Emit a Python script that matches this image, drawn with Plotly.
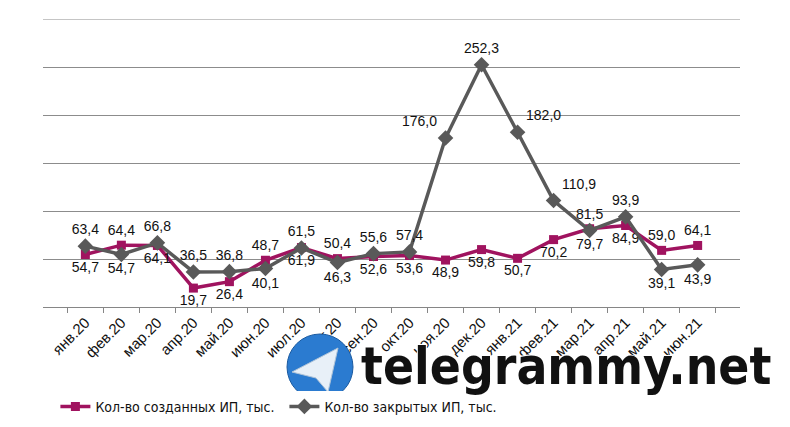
import plotly.graph_objects as go

months = ["янв.20", "фев.20", "мар.20", "апр.20", "май.20", "июн.20", "июл.20",
          "авг.20", "сен.20", "окт.20", "ноя.20", "дек.20", "янв.21", "фев.21",
          "мар.21", "апр.21", "май.21", "июн.21"]
created = [54.7, 64.4, 64.1, 19.7, 26.4, 48.7, 61.9, 50.4, 52.6, 53.6, 48.9, 59.8,
           50.7, 70.2, 81.5, 84.9, 59.0, 64.1]
closed = [63.4, 54.7, 66.8, 36.5, 36.8, 40.1, 61.5, 46.3, 55.6, 57.4, 176.0, 252.3,
          182.0, 110.9, 79.7, 93.9, 39.1, 43.9]

# where each data label sits (Excel put them by hand)
created_pos = ["bottom center", "top center", "bottom center", "bottom center", "bottom center",
               "top center", "bottom center", "top center", "bottom center", "bottom center",
               "bottom center", "bottom center", "bottom center", "bottom center", "top center",
               "bottom center", "top center", "top center"]
closed_pos = ["top center", "bottom center", "top center", "top center", "top center",
              "bottom center", "top center", "bottom center", "top center", "top center",
              "top left", "top center", "top right", "top right", "bottom center",
              "top center", "bottom center", "bottom center"]

def fmt(v):
    return f"{v:.1f}".replace(".", ",")

# screen pixel -> paper (plot area 43..740 x 19..307 on screen)
def px(x):
    return (x - 43) / 697

def py(y):
    return (307 - y) / 288

fig = go.Figure()
fig.add_trace(go.Scatter(
    x=months, y=created, name="Кол-во созданных ИП, тыс.",
    mode="lines+markers+text",
    line=dict(color="#A0135F", width=3.5),
    marker=dict(symbol="square", size=9, color="#A0135F"),
    text=[fmt(v) for v in created], textposition=created_pos,
    textfont=dict(size=14, color="#111111"),
    cliponaxis=False,
))
fig.add_trace(go.Scatter(
    x=months, y=closed, name="Кол-во закрытых ИП, тыс.",
    mode="lines+markers+text",
    line=dict(color="#595959", width=3.5),
    marker=dict(symbol="diamond", size=12, color="#595959"),
    text=[fmt(v) for v in closed], textposition=closed_pos,
    textfont=dict(size=14, color="#111111"),
    cliponaxis=False,
))

# watermark: globe + site name
fig.add_shape(type="circle", xref="paper", yref="paper",
              x0=px(287), x1=px(353), y0=py(400), y1=py(334),
              fillcolor="#2B7BD0", line=dict(color="#1A5AA0", width=1))
fig.add_shape(type="path", xref="paper", yref="paper",
              path=f"M {px(292)} {py(372)} L {px(338)} {py(348)} L {px(328)} {py(392)} L {px(316)} {py(378)} Z",
              fillcolor="#E8F0F8", line=dict(color="#B0C4D8", width=1))
fig.add_annotation(text="telegrammy.net", xref="paper", yref="paper",
                   x=px(566), y=py(366), xanchor="center", yanchor="middle",
                   showarrow=False,
                   font=dict(family="DejaVu Sans Condensed", size=51, weight="bold",
                             color="#111111",
                             shadow="1px 1px 0 #fff, -1px -1px 0 #fff"))

fig.update_layout(
    width=790, height=427,
    margin=dict(l=35, r=58, t=11, b=128, autoexpand=False),
    paper_bgcolor="white", plot_bgcolor="white",
    font=dict(family="Liberation Sans, Arial", size=14, color="#111111"),
    showlegend=True,
    legend=dict(orientation="h", x=0.06, xref="container", y=0.066,
                yref="container", yanchor="middle",
                font=dict(family="DejaVu Sans Condensed, Liberation Sans", size=14),
                itemwidth=30, entrywidth=184),
    xaxis=dict(tickangle=-45, showgrid=False, showline=True, linecolor="#868686",
               linewidth=1, ticks="outside", tickson="boundaries", ticklen=5,
               tickcolor="#868686", tickfont=dict(size=15), automargin=False),
    yaxis=dict(range=[0, 300], dtick=50, showgrid=True, gridcolor="#8C8C8C",
               showticklabels=False, zeroline=False, showline=False, automargin=False),
)
fig.add_shape(type="line", xref="paper", yref="y", x0=0, x1=1, y0=300, y1=300,
              line=dict(color="#8C8C8C", width=1))

fig.write_html("out.html")
